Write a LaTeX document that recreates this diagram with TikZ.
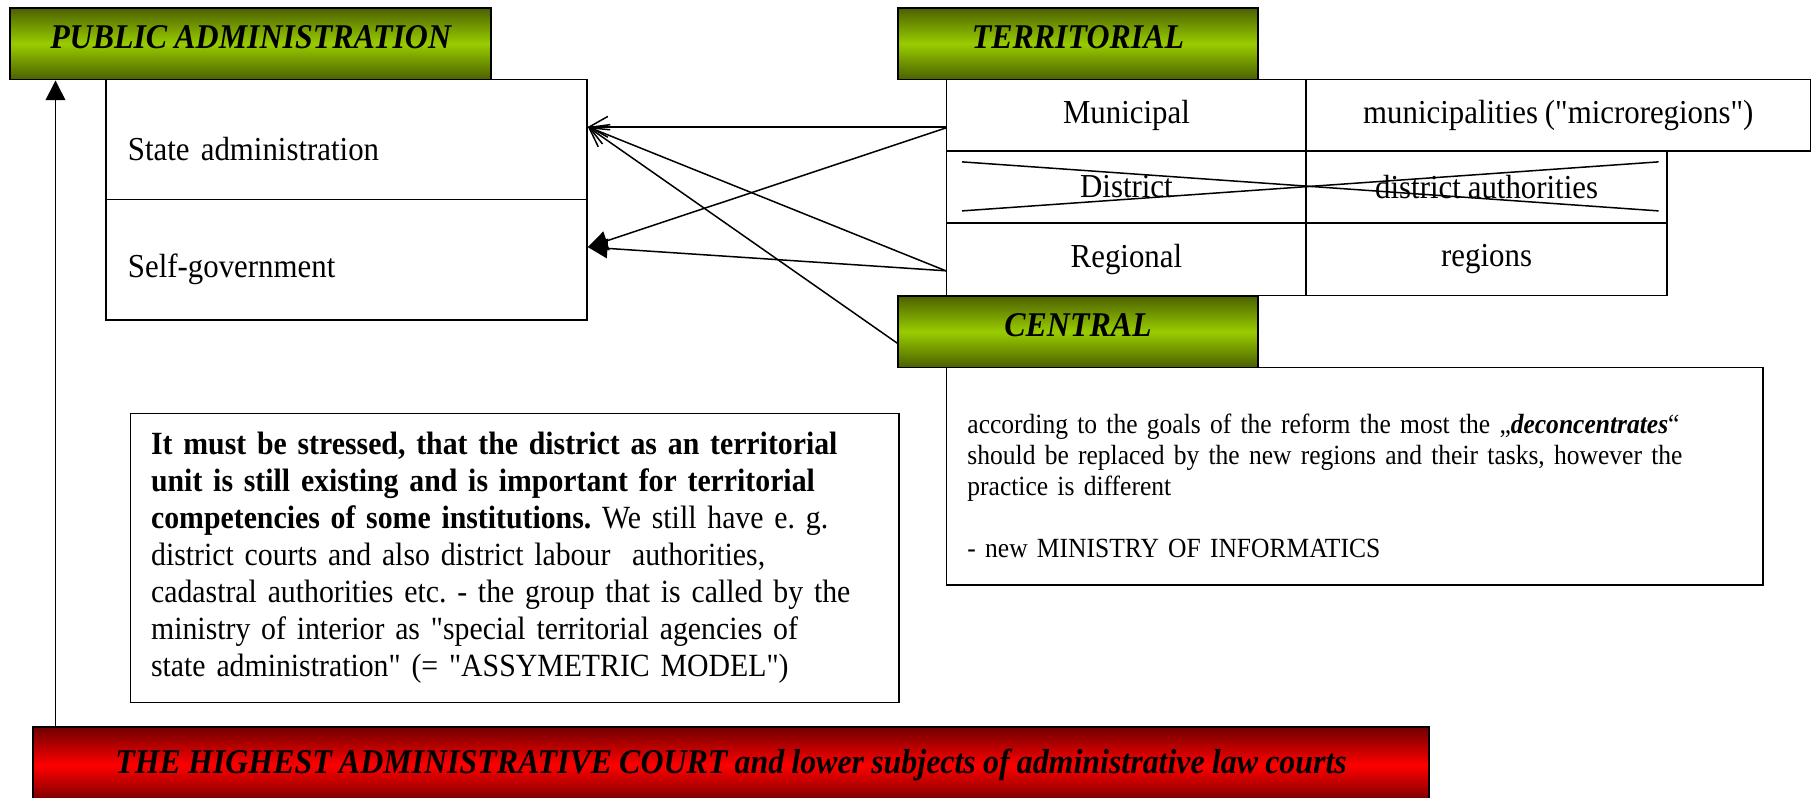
\documentclass[tikz,border=0pt]{standalone}
\usepackage{fontspec}
\setmainfont{Liberation Serif}[Ligatures=TeXOff, FakeStretch=0.92, WordSpace=0.9]
\frenchspacing
\usetikzlibrary{arrows.meta}
\definecolor{gdark}{HTML}{4B6000}
\definecolor{glight}{HTML}{99CC00}
\definecolor{rdark}{HTML}{700000}
\definecolor{rlight}{HTML}{FF0000}
\newcommand{\downtext}{\rule{0pt}{18pt}}
\newcommand{\uptext}{\rule[-6pt]{0pt}{6pt}}
\begin{document}
\begin{tikzpicture}[x=0.5pt,y=-0.5pt,
  box/.style={draw, line width=0.7pt, inner sep=0pt, anchor=north west,
    font=\fontsize{14.5}{16}\selectfont},
  cell/.style={box, minimum width=155.5pt, minimum height=31pt},
  greenbox/.style={box, line width=0.8pt, top color=gdark, bottom color=gdark,
    middle color=glight, font=\fontsize{15}{17}\selectfont\bfseries\itshape},
  redbox/.style={box, line width=0.8pt, top color=rdark, bottom color=rdark,
    middle color=rlight, font=\fontsize{15}{17}\selectfont\bfseries\itshape},
  conn/.style={draw, line width=0.65pt},
  openhead/.style={-{Straight Barb[length=8pt,width=9pt]}},
  fullhead/.style={-{Triangle[length=8.5pt,width=8.5pt]}}
]
\useasboundingbox (0,0) rectangle (1568,690);

% left block
\node[greenbox, minimum width=208pt, minimum height=31pt] (pa) at (8,6) {\uptext PUBLIC ADMINISTRATION};
\node[box, minimum width=208pt, minimum height=52pt, text width=189pt, inner xsep=9.5pt, align=left] (sa) at (91,68) {\downtext State administration};
\node[box, minimum width=208pt, minimum height=52pt, text width=189pt, inner xsep=9.5pt, align=left] (sg) at (91,172) {\downtext Self-government};

% territorial table
\node[greenbox, minimum width=155.5pt, minimum height=31pt] (terr) at (776,6) {\uptext TERRITORIAL};
\node[cell] (mun) at (818,68) {Municipal};
\node[cell, minimum width=218pt] (munr) at (1129,68) {municipalities ("microregions")};
\node[cell] (dis) at (818,130) {District};
\node[cell, minimum width=156pt] (disr) at (1129,130) {district authorities};
\node[cell, minimum height=31.5pt] (reg) at (818,192) {Regional};
\node[cell, minimum width=156pt, minimum height=31.5pt] (regr) at (1129,192) {regions};
\draw[conn] ([xshift=7pt,yshift=-5pt]dis.north west) -- ([xshift=-4pt,yshift=5.5pt]disr.south east);
\draw[conn] ([xshift=7pt,yshift=5.5pt]dis.south west) -- ([xshift=-4pt,yshift=-5pt]disr.north east);

% central
\node[greenbox, minimum width=155.5pt, minimum height=31pt] (cen) at (776,255) {\uptext CENTRAL};
\node[box, minimum width=353pt, minimum height=94pt, text width=335pt, inner xsep=9pt, align=left,
  font=\fontsize{12}{13.5}\selectfont] (cbox) at (818,317)
  {\rule{0pt}{17pt}according to the goals of the reform the most the „\textbf{\textit{deconcentrates}}“\\
   should be replaced by the new regions and their tasks, however the\\
   practice is different\\[13.5pt]
   - new MINISTRY OF INFORMATICS};

% note
\node[box, minimum width=332.5pt, minimum height=125pt, text width=314.5pt, inner xsep=9pt, align=left,
  font=\fontsize{14}{16}\selectfont] (note) at (112,357)
  {\mbox{\textbf{It must be stressed, that the district as an territorial}}\\
   \mbox{\textbf{unit is still existing and is important for territorial}}\\
   \mbox{\textbf{competencies of some institutions.} We still have e. g.}\\
   \mbox{district courts and also district labour\ \ authorities,}\\
   \mbox{cadastral authorities etc. - the group that is called by the}\\
   \mbox{ministry of interior as "special territorial agencies of}\\
   \mbox{state administration" (= "ASSYMETRIC MODEL")}};

% court
\node[redbox, minimum width=603.5pt, minimum height=33pt] (court) at (28,628)
  {THE HIGHEST ADMINISTRATIVE COURT and lower subjects of administrative law courts};

% connectors
\draw[conn, openhead] ([yshift=-5pt]mun.west) -- ([yshift=5.5pt]sa.east);
\draw[conn, openhead] ([yshift=-5pt]reg.west) -- ([yshift=5.5pt]sa.east);
\draw[conn, openhead] ([yshift=-5pt]cen.west) -- ([yshift=5.5pt]sa.east);
\draw[conn, fullhead] ([yshift=-5.5pt]mun.west) -- ([yshift=5.5pt]sg.east);
\draw[conn, fullhead] ([yshift=-5pt]reg.west) -- ([yshift=5.5pt]sg.east);
\draw[conn, fullhead] ([xshift=10pt]court.north west) -- ([xshift=20pt]pa.south west);
\end{tikzpicture}
\end{document}
